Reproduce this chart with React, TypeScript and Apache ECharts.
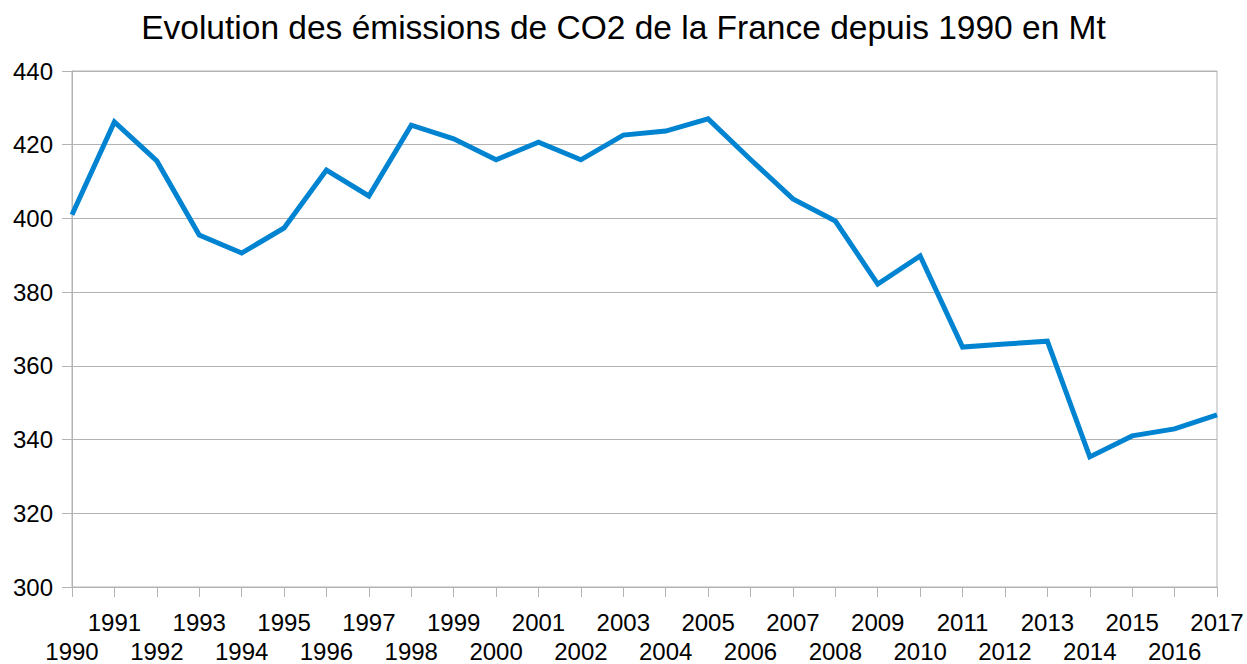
import React, { useEffect, useRef } from "react";
import * as echarts from "echarts";

const years = [
  "1990", "1991", "1992", "1993", "1994", "1995", "1996", "1997", "1998", "1999",
  "2000", "2001", "2002", "2003", "2004", "2005", "2006", "2007", "2008", "2009",
  "2010", "2011", "2012", "2013", "2014", "2015", "2016", "2017",
];
const emissions = [
  401, 426.2, 415.6, 395.5, 390.6, 397.4, 413.1, 406.1, 425.3, 421.6,
  415.9, 420.7, 415.9, 422.6, 423.7, 427, 416, 405.3, 399.3, 382.2,
  389.8, 365.1, 365.9, 366.7, 335.3, 341, 342.9, 346.7,
];
const yMin = 300;
const yMax = 440;
const yStep = 20;
const titleText = "Evolution des émissions de CO2 de la France depuis 1990 en Mt";

export default function App() {
  const ref = useRef<HTMLDivElement>(null);
  useEffect(() => {
    if (!ref.current) return;
    document.body.style.margin = "0";
    const chart = echarts.init(ref.current, null, { renderer: "svg" });
    const axisColor = "#b3b3b3";
    chart.setOption({
      animation: false,
      backgroundColor: "#ffffff",
      textStyle: { fontFamily: "Liberation Sans, Arial, sans-serif" },
      title: {
        text: titleText,
        left: "center",
        top: 5,
        textStyle: { fontSize: 33.5, fontWeight: "normal", color: "#000", fontFamily: "Liberation Sans" },
      },
      grid: {
        left: 72,
        right: 30,
        top: 71,
        bottom: 77,
        show: true,
        borderColor: axisColor,
        borderWidth: 1,
        containLabel: false,
        outerBoundsMode: "none",
      },
      xAxis: {
        type: "category",
        data: years,
        boundaryGap: false,
        axisLine: { lineStyle: { color: axisColor } },
        axisTick: { show: true, length: 10, interval: 0, lineStyle: { color: axisColor } },
        axisLabel: {
          interval: 0,
          color: "#000",
          fontSize: 24,
          lineHeight: 29,
          margin: 21,
          fontFamily: "Liberation Sans",
          formatter: (v: string, i: number) => (i % 2 === 0 ? "\n" + v : v),
        },
        splitLine: { show: false },
      },
      yAxis: {
        type: "value",
        min: yMin,
        max: yMax,
        interval: yStep,
        axisLine: { show: true, lineStyle: { color: axisColor } },
        axisTick: { show: true, length: 10, lineStyle: { color: axisColor } },
        axisLabel: { color: "#000", fontSize: 24, margin: 19, fontFamily: "Liberation Sans" },
        splitLine: { show: true, lineStyle: { color: axisColor } },
      },
      series: [
        {
          type: "line",
          data: emissions,
          symbol: "none",
          lineStyle: { color: "#0084d1", width: 5, join: "miter" },
          itemStyle: { color: "#0084d1" },
        },
      ],
    });
    return () => chart.dispose();
  }, []);
  return <div ref={ref} style={{ width: 1247, height: 664 }} />;
}
